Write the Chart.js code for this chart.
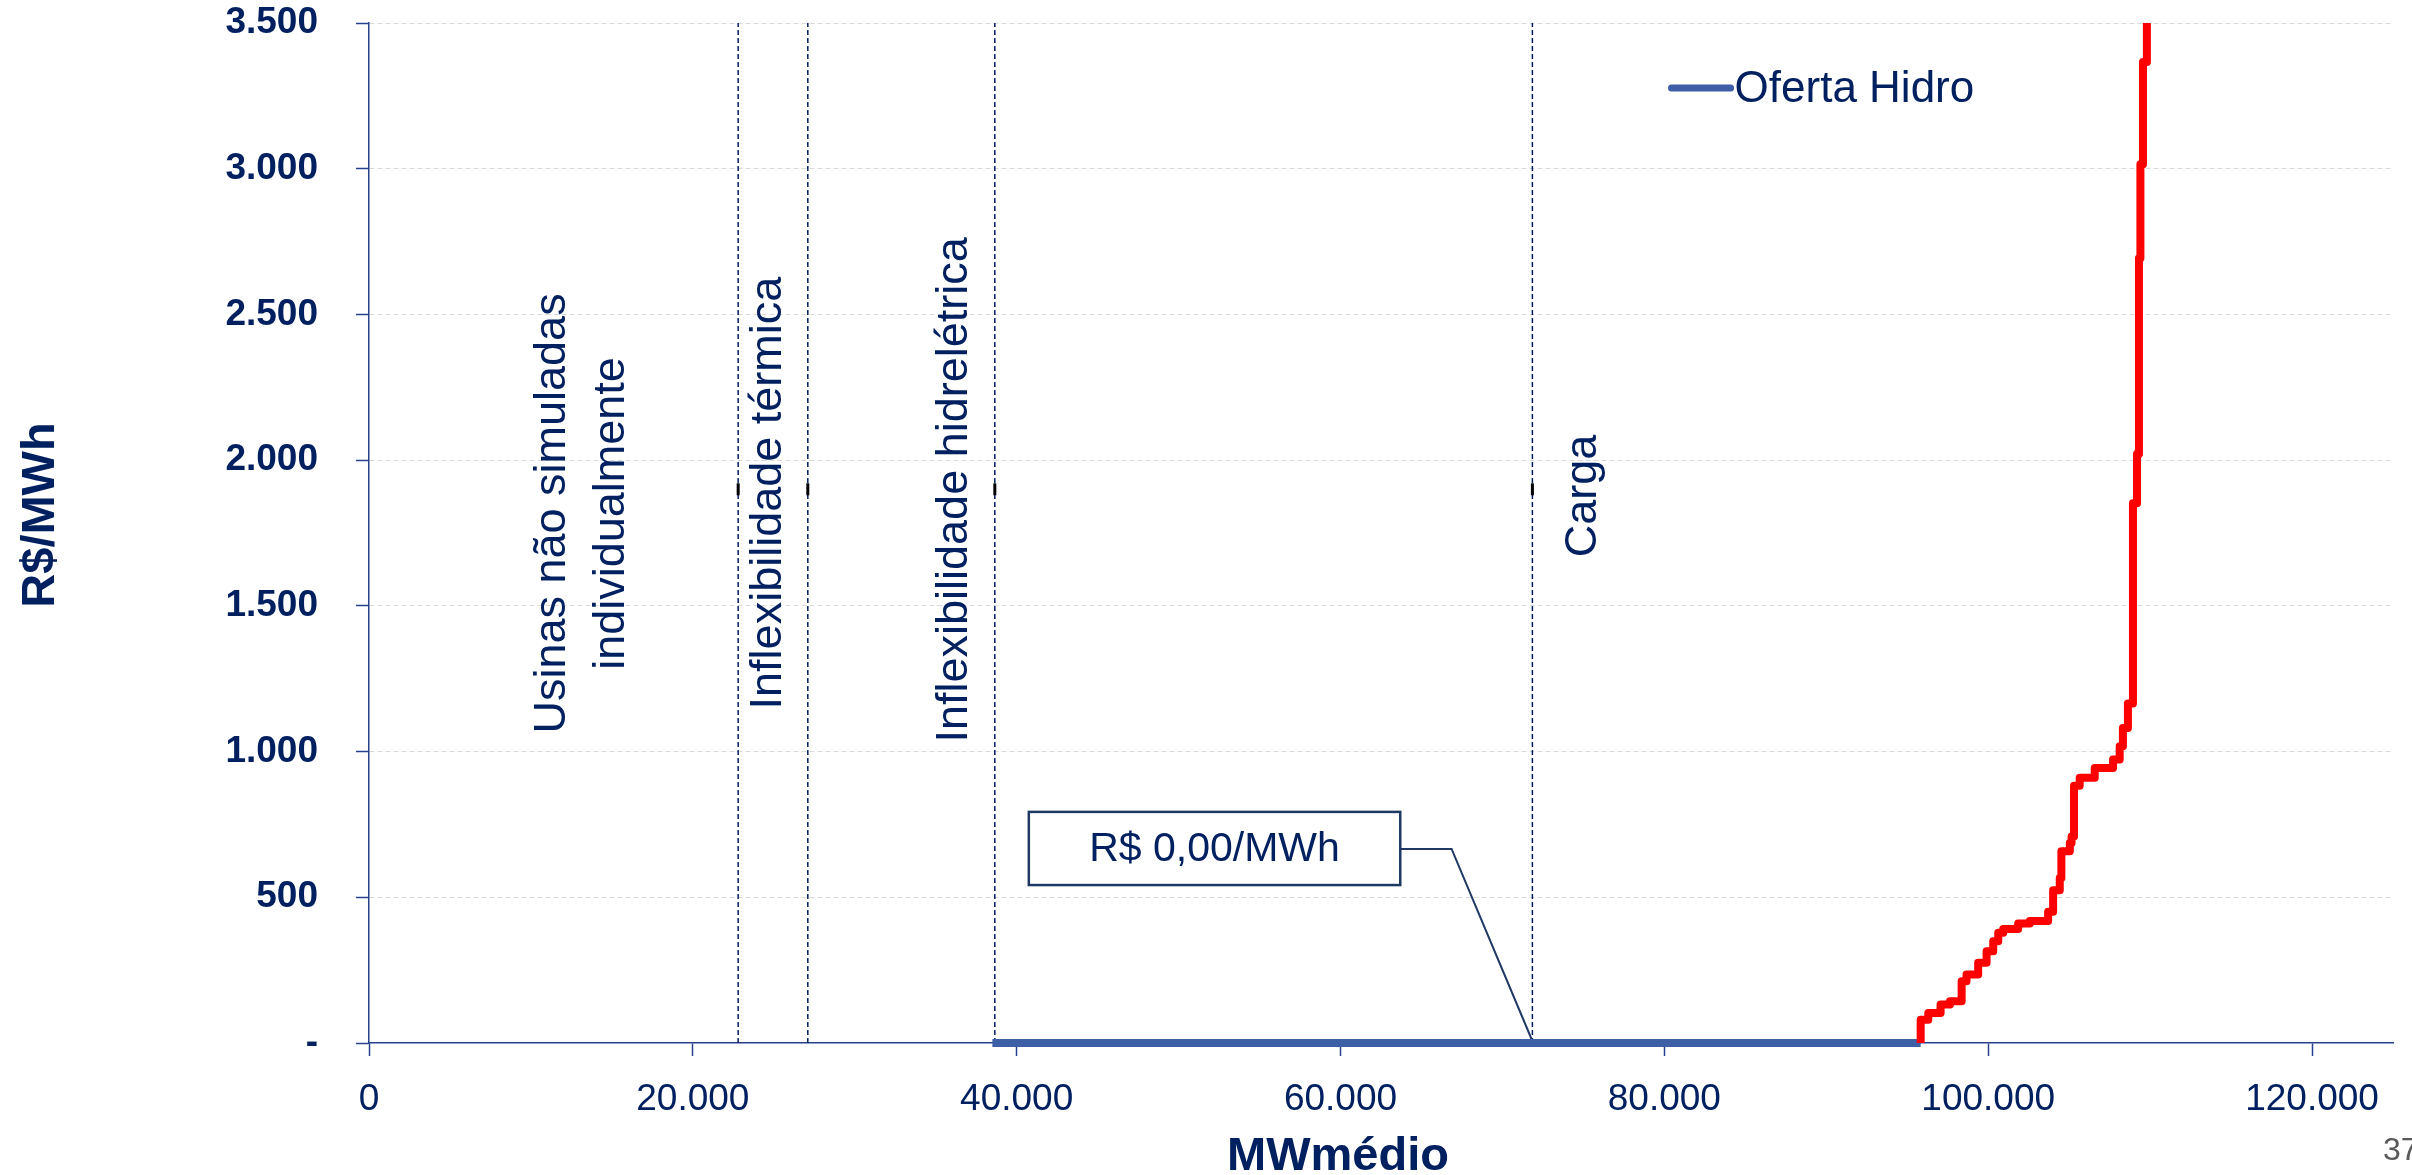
<!DOCTYPE html>
<html>
<head>
<meta charset="utf-8">
<script src="https://cdn.jsdelivr.net/npm/chart.js@4.4.1/dist/chart.umd.min.js"></script>
<style>
  html, body { margin: 0; padding: 0; background: #fff; }
  #wrap { width: 2412px; height: 1175px; }
</style>
</head>
<body>
<div id="wrap"><canvas id="chart" width="2412" height="1175"></canvas></div>
<script>
// Oferta hidro (flat at zero) and the thermal price steps after it
const hidroX = [38500, 95830]
const hidroY = [0, 0]

const stepX = [95830, 95830, 96300, 97060, 97640, 98360, 98660, 99380, 99900, 100310,
  100620, 100930, 101850, 102570, 103700, 104010, 104420, 104520, 105040, 105150,
  105300, 105650, 106580, 107710, 108120, 108320, 108630, 108940, 109190, 109310,
  109400, 109560, 109800]
const stepY = [0, 80, 103, 132, 143, 212, 235, 275, 315, 349,
  378, 391, 410, 419, 450, 524, 566, 658, 686, 709,
  883, 910, 944, 973, 1018, 1081, 1165, 1852, 2021, 2693,
  3015, 3366, 3800]

// vertical reference lines (MWmédio)
const limitNames = ["Usinas não simuladas individualmente", "Inflexibilidade térmica", "Inflexibilidade hidrelétrica", "Carga"]
const limitX = [22800, 27100, 38650, 71850]
const limitMarkY = 1900

// leader from the price box to the load line
const leaderX = [63690, 66860, 71900]
const leaderY = [666, 666, 0]

const xTickValues = [0, 20000, 40000, 60000, 80000, 100000, 120000]
const yTickValues = [0, 500, 1000, 1500, 2000, 2500, 3000, 3500]

const NAVY = "#002060"
const AXIS = "#27418c"
const BLUE = "#3c5fa6"
const FONT = "'Liberation Sans', Arial, sans-serif"

Chart.defaults.font.family = FONT
Chart.defaults.color = NAVY

function fmt(v) {
  return String(Math.round(v)).replace(/\B(?=(\d{3})+(?!\d))/g, ".")
}

const toPoints = (xs, ys) => xs.map((x, i) => ({ x: x, y: ys[i] }))

const datasets = [
  {
    label: "Térmica",
    data: toPoints(stepX, stepY),
    borderColor: "#ff0000",
    borderWidth: 8,
    stepped: "before",
    borderJoinStyle: "round",
    pointRadius: 0,
    clip: { left: 10, top: 0, right: 10, bottom: 10 }
  },
  {
    label: "Oferta Hidro",
    data: toPoints(hidroX, hidroY),
    borderColor: BLUE,
    borderWidth: 8,
    pointRadius: 0,
    clip: { left: 10, top: 0, right: 10, bottom: 10 }
  },
  {
    label: "leader",
    data: toPoints(leaderX, leaderY),
    borderColor: "#1f3864",
    borderWidth: 2,
    pointRadius: 0,
    clip: false
  }
]

limitX.forEach((x, i) => {
  datasets.push({
    label: limitNames[i],
    data: [{ x: x, y: 0 }, { x: x, y: limitMarkY }, { x: x, y: 3500 }],
    borderColor: NAVY,
    borderWidth: 1.5,
    borderDash: [5, 3],
    pointRadius: [0, 6, 0],
    pointStyle: "line",
    rotation: 90,
    pointBorderColor: "#000",
    pointBorderWidth: 3
  })
})

// text boxes, rotated labels, legend and titles
const annotations = {
  id: "annotations",
  afterDraw(chart) {
    const { ctx, scales: { x, y } } = chart

    ctx.save()
    ctx.fillStyle = NAVY
    ctx.textAlign = "center"
    ctx.textBaseline = "alphabetic"
    ctx.font = "45px " + FONT
    const sideLabels = [
      { text: "Usinas não simuladas", x: 12100, y: 1817 },
      { text: "individualmente", x: 15740, y: 1817 },
      { text: "Inflexibilidade térmica", x: 25430, y: 1887 },
      { text: "Inflexibilidade hidrelétrica", x: 36920, y: 1898 },
      { text: "Carga", x: 75750, y: 1877 }
    ]
    sideLabels.forEach(l => {
      ctx.save()
      ctx.translate(x.getPixelForValue(l.x), y.getPixelForValue(l.y))
      ctx.rotate(-Math.PI / 2)
      ctx.fillText(l.text, 0, 0)
      ctx.restore()
    })

    // price box
    const bx1 = x.getPixelForValue(40750), bx2 = x.getPixelForValue(63690)
    const by1 = y.getPixelForValue(793), by2 = y.getPixelForValue(542)
    ctx.fillStyle = "#fff"
    ctx.fillRect(bx1, by1, bx2 - bx1, by2 - by1)
    ctx.strokeStyle = "#1f3864"
    ctx.lineWidth = 2.5
    ctx.strokeRect(bx1, by1, bx2 - bx1, by2 - by1)
    ctx.fillStyle = NAVY
    ctx.font = "41px " + FONT
    ctx.textBaseline = "middle"
    ctx.fillText("R$ 0,00/MWh", (bx1 + bx2) / 2, (by1 + by2) / 2 + 1)

    // legend
    const lx1 = x.getPixelForValue(80440), lx2 = x.getPixelForValue(84090)
    const ly = y.getPixelForValue(3277)
    ctx.strokeStyle = BLUE
    ctx.lineWidth = 7
    ctx.lineCap = "round"
    ctx.beginPath()
    ctx.moveTo(lx1, ly)
    ctx.lineTo(lx2, ly)
    ctx.stroke()
    ctx.textAlign = "left"
    ctx.textBaseline = "alphabetic"
    ctx.font = "44px " + FONT
    ctx.fillText("Oferta Hidro", lx2 + 4, ly + 14)

    // axis titles
    ctx.font = "bold 47px " + FONT
    ctx.textAlign = "center"
    ctx.fillText("MWmédio", 1338, 1170)
    ctx.save()
    ctx.translate(54, 515)
    ctx.rotate(-Math.PI / 2)
    ctx.fillText("R$/MWh", 0, 0)
    ctx.restore()

    // slide number
    ctx.fillStyle = "#595959"
    ctx.font = "32px " + FONT
    ctx.textAlign = "left"
    ctx.fillText("37", 2383, 1160)
    ctx.restore()
  }
}

new Chart(document.getElementById("chart"), {
  type: "line",
  data: { datasets: datasets },
  plugins: [annotations],
  options: {
    responsive: false,
    animation: false,
    layout: { padding: { top: 23, right: 19, left: 0, bottom: 0 } },
    plugins: {
      legend: { display: false },
      tooltip: { enabled: false }
    },
    scales: {
      x: {
        type: "linear",
        min: 0,
        max: 125000,
        afterBuildTicks: s => { s.ticks = xTickValues.map(v => ({ value: v })) },
        afterFit: s => {
          s.height = 132
          s.paddingLeft = 0
          s.paddingRight = 0
        },
        grid: { drawOnChartArea: false, tickLength: 13, tickColor: AXIS, tickWidth: 1.5 },
        border: { color: AXIS, width: 1.5 },
        ticks: {
          padding: 22,
          color: NAVY,
          maxRotation: 0,
          autoSkip: false,
          font: { size: 37 },
          callback: v => fmt(v)
        }
      },
      y: {
        type: "linear",
        min: 0,
        max: 3500,
        afterBuildTicks: s => { s.ticks = yTickValues.map(v => ({ value: v })) },
        afterFit: s => {
          s.width = 369
          s.paddingTop = 0
          s.paddingBottom = 0
        },
        grid: {
          color: c => (c.tick && c.tick.value === 0) ? "rgba(0,0,0,0)" : "#d9d9d9",
          lineWidth: 1,
          tickLength: 13,
          tickColor: AXIS,
          tickWidth: 1.5,
          tickBorderDash: []
        },
        border: { color: AXIS, width: 1.5, dash: [5, 3] },
        ticks: {
          padding: 38,
          color: NAVY,
          font: { size: 37, weight: "bold" },
          callback: v => v === 0 ? "-" : fmt(v)
        }
      }
    }
  }
})
</script>
</body>
</html>
